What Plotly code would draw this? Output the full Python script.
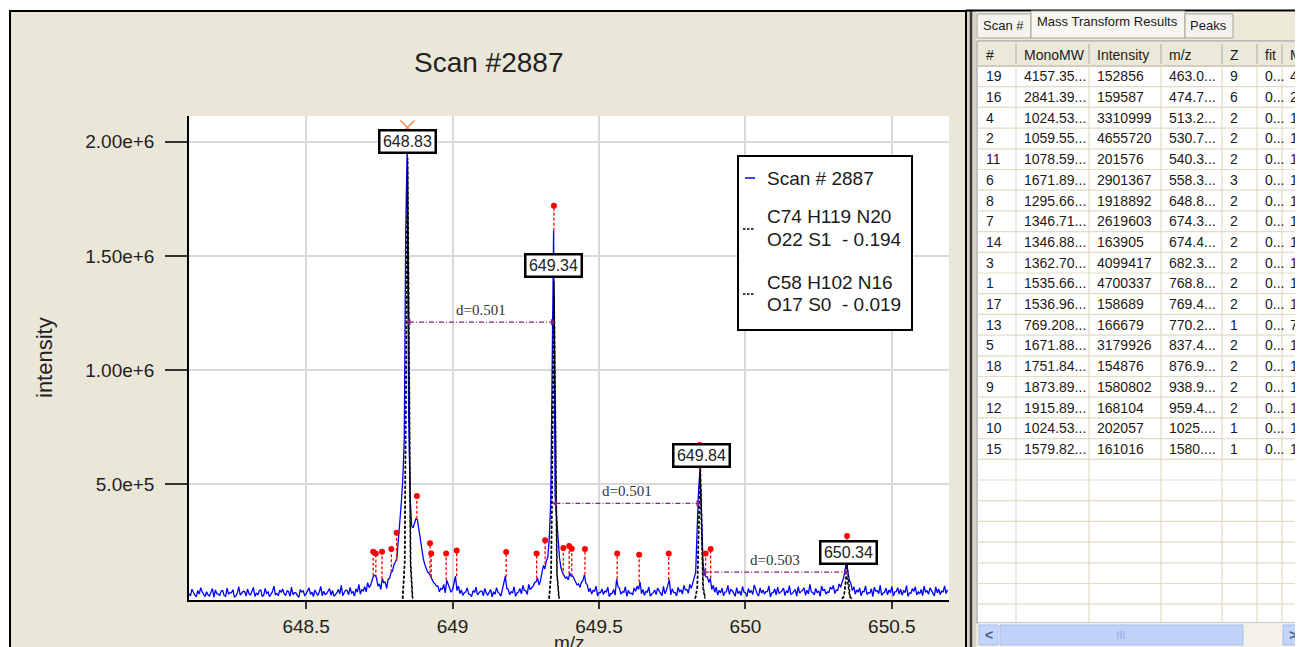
import plotly.graph_objects as go

# page places the figure 8px from the top-left corner
OFF = 8
W, H = 1303 - OFF, 647 - OFF

# ---------------- chart data ----------------
chart_title = "Scan #2887"
x_title = "m/z"
y_title = "intensity"
x_tick_vals = [648.5, 649.0, 649.5, 650.0, 650.5]
x_tick_text = ["648.5", "649", "649.5", "650", "650.5"]
y_tick_vals = [5.0e5, 1.0e6, 1.5e6, 2.0e6]
y_tick_text = ["5.0e+5", "1.00e+6", "1.50e+6", "2.00e+6"]
x_range = [648.10, 650.695]
y_range = [-6000, 2112500]

# measured spectrum: intensity (thousands) every 0.01 m/z from 648.10
grid_start = 648.10
grid_step = 0.01
grid_int_k = [
    22, 41, 15, 36, 48, 19, 30, 12, 44, 38, 20, 33, 14, 46, 27, 39, 11, 52, 24, 31,
    43, 16, 49, 25, 35, 10, 45, 29, 18, 55, 23, 37, 42, 15, 31, 50, 26, 13, 40, 34,
    21, 47, 28, 38, 14, 53, 32, 22, 44, 36, 19, 41, 58, 27, 35, 49, 30, 43, 62, 39,
    52, 70, 58, 100, 92, 65, 88, 72, 84, 115, 150, 180, 330,
    520, 1600, 800, 320, 330, 345, 250, 175, 130, 110, 85, 65, 55, 45, 62, 80, 50, 40, 98, 55,
    38, 26, 47, 18, 35, 50, 24, 33, 45, 16, 40, 30, 48, 22, 37,
    98, 40, 30, 52, 25, 44, 58, 35, 62,
    48, 70, 90, 78, 145, 165, 260, 1200, 450, 270, 135, 105, 95, 112, 100, 78, 64, 72, 104, 60,
    45, 36, 55, 27, 42, 33, 50, 21, 40,
    85,
    44, 30, 52, 36, 24, 47,
    55, 72,
    40, 32, 51, 20, 38, 46, 28, 54, 35,
    82,
    43, 26, 49, 37, 58, 40, 62,
    68, 115, 480, 330, 105, 95, 88, 58,
    50, 36, 46, 29, 58, 40, 24, 48, 33, 54, 27, 44, 36, 60, 20, 47, 38, 31, 56, 25,
    42, 50, 28, 46, 35, 57, 22, 40, 52, 30, 47, 37, 62, 26, 45, 34, 55, 41, 29, 51,
    58, 38, 64,
    72, 125, 115, 65,
    52, 38, 47, 32, 56, 26, 43, 50, 35, 58, 24, 46, 38, 53, 30, 48, 41, 34, 57, 25,
    44, 52, 29, 40, 55, 36, 47, 28, 51, 42, 33, 56, 39,
]
# in-between samples every 0.01 m/z from 648.105
mid_start = 648.105
mid_int_k = [
    12, 25, 8, 20, 30, 9, 17, 28, 6, 22, 14, 35, 10, 19, 26, 7, 24, 15, 32, 11,
    21, 29, 9, 16, 38, 13, 23, 8, 31, 18, 12, 27, 20, 34, 10, 17, 25, 6, 29, 14,
    36, 19, 9, 24, 30, 12, 18, 33, 15, 10, 26, 21, 13, 37, 17, 24, 11, 28, 20, 34,
    30, 48, 80, 102, 55, 40, 70, 45, 90, 120,
    160, 260, 420, 700, 1980, 450, 310, 350, 300, 210, 150, 115, 95, 70, 55,
    30, 42, 25, 60, 28, 75, 35, 22,
    14, 30, 20, 9, 27, 16, 33, 12, 24, 31, 8, 19, 28, 11, 60,
    45, 17, 26, 10, 29, 21, 36, 18, 40,
    55, 74, 60, 110, 130, 180, 420, 1610, 330, 180, 115,
    90, 82, 98, 86, 60, 50, 80, 68, 30,
    20, 33, 12, 26, 18, 30, 9, 24, 15, 52, 19, 28, 10, 23, 17, 32, 40, 22, 14, 29,
    11, 25, 18, 34, 13, 21, 60, 16, 27, 12, 31, 20, 38, 24, 45,
    85, 300, 565, 160, 95,
    70, 40, 28, 16, 25, 12, 30, 19, 35, 10, 22, 14, 28, 9, 26, 18, 33, 12, 24, 20,
    31, 8, 27, 16, 22, 35, 13, 25, 19, 29, 11, 24, 37, 15, 21, 30, 17, 26, 10, 34,
    20, 28, 41, 23, 36, 50,
    90, 160, 80,
    35, 20, 28, 12, 30, 18, 25, 9, 33, 22, 14, 29, 17, 26, 11, 31, 20, 15, 27, 10,
    24, 32, 16, 21, 13, 28, 19, 34, 12, 25, 18, 30, 22,
]
assert len(grid_int_k) == 260
assert len(mid_int_k) == 259

# theoretical isotope patterns (black dashed), one list per isotope peak
theo_names = ["C74 H119 N20 O22 S1  - 0.194", "C58 H102 N16 O17 S0  - 0.019"]
theo1_peaks_mz = [
    [648.829, 648.836, 648.841, 648.846, 648.851, 648.856, 648.863],
    [649.329, 649.336, 649.341, 649.346, 649.351, 649.356, 649.363],
    [649.828, 649.835, 649.840, 649.845, 649.850, 649.855, 649.862],
    [650.329, 650.336, 650.341, 650.346, 650.351, 650.356, 650.363],
]
theo1_peaks_k = [
    [0, 150, 1030, 1880, 1030, 150, 0],
    [0, 110, 760, 1390, 760, 110, 0],
    [0, 45, 300, 550, 300, 45, 0],
    [0, 8, 55, 100, 55, 8, 0],
]
theo2_peaks_mz = [
    [648.830, 648.837, 648.842, 648.847, 648.852, 648.857, 648.864],
    [649.330, 649.337, 649.342, 649.347, 649.352, 649.357, 649.364],
    [649.829, 649.836, 649.841, 649.846, 649.851, 649.856, 649.863],
    [650.330, 650.337, 650.342, 650.347, 650.352, 650.357, 650.364],
]
theo2_peaks_k = [
    [0, 160, 1060, 1930, 1060, 160, 0],
    [0, 105, 730, 1330, 730, 105, 0],
    [0, 50, 320, 590, 320, 50, 0],
    [0, 12, 80, 150, 80, 12, 0],
]

# picked peaks (red stems): m/z, stem top and stem base (thousands)
pick_mz = [648.729, 648.738, 648.759, 648.791, 648.809, 648.878, 648.923, 648.927,
           648.978, 649.014, 649.183, 649.287, 649.316, 649.378, 649.398, 649.407,
           649.452, 649.562, 649.637, 649.738, 649.864, 649.881,
           648.846, 649.346, 649.843, 650.347]
pick_top_k = [205, 198, 205, 217, 288, 449, 242, 198,
              198, 211, 204, 198, 256, 222, 230, 218,
              217, 198, 192, 198, 198, 217,
              2035, 1720, 672, 274]
pick_base_k = [100, 92, 85, 115, 165, 350, 110, 95,
               80, 98, 95, 88, 150, 100, 108, 98,
               104, 85, 72, 82, 100, 88,
               1980, 1610, 565, 160]
flag_mz = [648.846]
flag_int_k = [2062]

# peak labels
label_text = ["648.83", "649.34", "649.84", "650.34"]
label_mz = [648.846, 649.345, 649.850, 650.351]
label_int_k = [1999, 1460, 628, 204]

# spacing arrows
diff_from_mz = [648.851, 649.351, 649.859]
diff_to_mz = [649.341, 649.838, 650.343]
diff_int_k = [1210, 417, 116]
diff_text = ["d=0.501", "d=0.501", "d=0.503"]

legend_lines = ["Scan # 2887", "C74 H119 N20", "O22 S1  - 0.194", "C58 H102 N16", "O17 S0  - 0.019"]

# side table
tab_names = ["Scan #", "Mass Transform Results", "Peaks"]
tbl_header = ["#", "MonoMW", "Intensity", "m/z", "Z", "fit", "Mo"]
tbl_num = ["19", "16", "4", "2", "11", "6", "8", "7", "14", "3", "1", "17", "13", "5", "18", "9", "12", "10", "15"]
tbl_mono = ["4157.35...", "2841.39...", "1024.53...", "1059.55...", "1078.59...", "1671.89...",
            "1295.66...", "1346.71...", "1346.88...", "1362.70...", "1535.66...", "1536.96...",
            "769.208...", "1671.88...", "1751.84...", "1873.89...", "1915.89...", "1024.53...", "1579.82..."]
tbl_int = ["152856", "159587", "3310999", "4655720", "201576", "2901367", "1918892", "2619603",
           "163905", "4099417", "4700337", "158689", "166679", "3179926", "154876", "1580802",
           "168104", "202057", "161016"]
tbl_mz = ["463.0...", "474.7...", "513.2...", "530.7...", "540.3...", "558.3...", "648.8...",
          "674.3...", "674.4...", "682.3...", "768.8...", "769.4...", "770.2...", "837.4...",
          "876.9...", "938.9...", "959.4...", "1025....", "1580...."]
tbl_z = ["9", "6", "2", "2", "2", "3", "2", "2", "2", "2", "2", "2", "1", "2", "2", "2", "2", "1", "1"]
tbl_fit = ["0..."] * 19
tbl_mo = ["41", "28", "10", "10", "10", "16", "12", "13", "13", "13", "15", "15", "76", "16", "17",
          "18", "19", "10", "15"]

# ---------------- styling ----------------
FONT = "Liberation Sans, Arial, sans-serif"
SERIF = "Liberation Serif, Times New Roman, serif"
BEIGE = "#EAE7D9"
TXT = "#1A1A1A"
GRIDT = "#E2DCC6"


def X(p):
    return (p - OFF) / W


def Y(p):
    return 1 - (p - OFF) / H


PL, PR, PT, PB = 189, 949, 116, 600

fig = go.Figure()

# measured spectrum
pts = sorted([(round(grid_start + grid_step * i, 3), v) for i, v in enumerate(grid_int_k)]
             + [(round(mid_start + grid_step * i, 3), v) for i, v in enumerate(mid_int_k)])
fig.add_trace(go.Scatter(x=[p[0] for p in pts], y=[p[1] * 1000 for p in pts], mode="lines",
                         line=dict(color="#0000FF", width=1.3), name=legend_lines[0],
                         showlegend=False, hoverinfo="skip"))

# theoretical patterns
for name, pm, pk in [(theo_names[0], theo1_peaks_mz, theo1_peaks_k),
                     (theo_names[1], theo2_peaks_mz, theo2_peaks_k)]:
    xs, ys = [], []
    for m_list, k_list in zip(pm, pk):
        xs += m_list + [None]
        ys += [k * 1000 for k in k_list] + [None]
    fig.add_trace(go.Scatter(x=xs, y=ys, mode="lines", name=name, showlegend=False,
                             line=dict(color="#000000", width=1.4, dash="3px,2px"), hoverinfo="skip"))

# red picked-peak stems
sx, sy = [], []
for m, t, b in zip(pick_mz, pick_top_k, pick_base_k):
    sx += [m, m, None]
    sy += [b * 1000, t * 1000, None]
fig.add_trace(go.Scatter(x=sx, y=sy, mode="lines", showlegend=False, hoverinfo="skip",
                         line=dict(color="#FF0000", width=1.3, dash="3px,2px")))
fig.add_trace(go.Scatter(x=pick_mz, y=[t * 1000 for t in pick_top_k], mode="markers",
                         showlegend=False, hoverinfo="skip",
                         marker=dict(color="#FF0000", size=6)))
fig.add_trace(go.Scatter(x=flag_mz, y=[v * 1000 for v in flag_int_k], mode="markers",
                         showlegend=False, hoverinfo="skip",
                         marker=dict(symbol="x-thin-open", size=14, color="#F08A4B",
                                     line=dict(color="#F08A4B", width=1.5))))

# spacing arrows
for a, b, v in zip(diff_from_mz, diff_to_mz, diff_int_k):
    fig.add_trace(go.Scatter(x=[a, b], y=[v * 1000, v * 1000], mode="lines+markers",
                             showlegend=False, hoverinfo="skip",
                             line=dict(color="#80207F", width=1.3, dash="5px,2px,1px,2px"),
                             marker=dict(symbol=["triangle-left", "triangle-right"], size=6,
                                         color="#80207F")))

annotations = []


def text_at(px, py, t, size, color=TXT, family=FONT, xanchor="center", **kw):
    annotations.append(dict(x=X(px), y=Y(py), xref="paper", yref="paper", text=t,
                            showarrow=False, xanchor=xanchor, yanchor="middle",
                            font=dict(family=family, size=size, color=color), **kw))


for a, b, v, t in zip(diff_from_mz, diff_to_mz, diff_int_k, diff_text):
    annotations.append(dict(x=(a + b) / 2, y=v * 1000, xref="x", yref="y", text=t,
                            showarrow=False, yshift=12, xanchor="center", yanchor="middle",
                            font=dict(family=SERIF, size=15, color="#333333")))
for t, m, v in zip(label_text, label_mz, label_int_k):
    annotations.append(dict(x=m, y=v * 1000, xref="x", yref="y", text=t, showarrow=False,
                            xanchor="center", yanchor="middle",
                            bgcolor="#FFFFFF", bordercolor="#000000", borderwidth=2.5,
                            borderpad=1, width=52, height=18,
                            font=dict(family=FONT, size=16, color="#222222")))

# titles
text_at(488, 62, chart_title, 28, "#222222")
text_at(44, 358, y_title, 22, "#222222", textangle=-90)
text_at(569, 642, x_title, 19, "#222222")

shapes = []


def rect(x0, y0, x1, y1, fill, line_color=None, lw=0, layer="below"):
    shapes.append(dict(type="rect", xref="paper", yref="paper", x0=X(x0), x1=X(x1),
                       y0=Y(y1), y1=Y(y0), fillcolor=fill, layer=layer,
                       line=dict(color=line_color or fill, width=lw)))


def hline(x0, x1, y, color, lw=1, layer="below", dash="solid"):
    shapes.append(dict(type="line", xref="paper", yref="paper", x0=X(x0), x1=X(x1),
                       y0=Y(y), y1=Y(y), layer=layer, line=dict(color=color, width=lw, dash=dash)))


def vline(x, y0, y1, color, lw=1, layer="below"):
    shapes.append(dict(type="line", xref="paper", yref="paper", x0=X(x), x1=X(x),
                       y0=Y(y0), y1=Y(y1), layer=layer, line=dict(color=color, width=lw)))


# left panel
rect(10, 11, 966, 662, BEIGE, "#000000", 2)
rect(PL, PT, PR, PB, "#FFFFFF")
# splitter
rect(967, 11, 976, 662, "#D9D5C7")
vline(971, 11, 662, "#3A3A3A", 2.5)
hline(966, 1310, 10.5, "#000000", 2)

# right panel: tab strip
rect(976, 12, 1310, 662, "#ECE9D8")
tab_boxes = [(977, 14, 1031, 38), (1031, 11, 1185, 38), (1185, 14, 1233, 38)]
tab_fills = ["#F4F3EE", "#F7F6F0", "#F4F3EE"]
for (a, b, c, d), f in zip(tab_boxes, tab_fills):
    rect(a, b, c, d, f, "#A6A394", 1)
tab_text_x = [1003, 1107, 1208]
tab_text_y = [25, 22, 25]
for t, tx, ty in zip(tab_names, tab_text_x, tab_text_y):
    text_at(tx, ty, t, 13)

# table area
rect(977, 41, 1310, 623, "#FFFFFF", "#8E8E8E", 1)
rect(978, 42, 1310, 66, "#EBE9DA")
hline(978, 1310, 66, "#D2CDBA", 2)
col_left = [978, 1016, 1089, 1161, 1222, 1257, 1282]
for cx in col_left[1:]:
    vline(cx, 44, 64, "#C3BFAC", 1.5)
    vline(cx, 66, 622, GRIDT, 1.2)
row_top = 66
row_h = 20.7
k = 1
while row_top + k * row_h < 622:
    hline(978, 1310, row_top + k * row_h, GRIDT, 1.2)
    k += 1

for j, h in enumerate(tbl_header):
    text_at(col_left[j] + 6, 55, h, 14, xanchor="left")
columns = [tbl_num, tbl_mono, tbl_int, tbl_mz, tbl_z, tbl_fit, tbl_mo]
for j, col in enumerate(columns):
    for i, val in enumerate(col):
        text_at(col_left[j] + 6, row_top + row_h * (i + 0.5), val, 14, xanchor="left")

# scrollbar
rect(978, 623, 1310, 650, "#F3F1EA")
rect(979, 625, 998, 645, "#C4D5FB", "#A9BFEF", 1)
rect(1000, 625, 1243, 645, "#C0D2FA", "#A5BCEF", 1)
rect(1283, 625, 1302, 645, "#C4D5FB", "#A9BFEF", 1)
for gx in [1118, 1121, 1124]:
    vline(gx, 631, 639, "#8EA6DE", 1)
text_at(988.5, 635, "<b>&lt;</b>", 14, "#4B5E8C")
text_at(1292.5, 635, "<b>&gt;</b>", 14, "#4B5E8C")

# legend (drawn manually)
rect(738, 156, 912, 330, "#FFFFFF", "#000000", 2, layer="above")
hline(745, 755, 178, "#0000FF", 1.5, layer="above")
hline(743, 754, 229, "#000000", 1.6, layer="above", dash="2.5px,1.5px")
hline(743, 754, 294, "#000000", 1.6, layer="above", dash="2.5px,1.5px")
legend_y = [178, 216, 239, 282, 304]
for t, ly in zip(legend_lines, legend_y):
    text_at(765, ly, t, 19, "#1A1A1A", xanchor="left")

fig.update_layout(
    width=W, height=H,
    margin=dict(l=0, r=0, t=0, b=0),
    paper_bgcolor="#FFFFFF",
    plot_bgcolor="#FFFFFF",
    showlegend=False,
    shapes=shapes,
    annotations=annotations,
    font=dict(family=FONT, color="#222222"),
    xaxis=dict(domain=[X(PL), X(PR)], range=x_range, tickvals=x_tick_vals, ticktext=x_tick_text,
               showgrid=True, gridcolor="#D9D9D9", gridwidth=1.5, zeroline=False,
               showline=True, linecolor="#000000", linewidth=1.5,
               ticks="outside", ticklen=7, tickwidth=1.5, tickcolor="#333333",
               tickfont=dict(family=FONT, size=19, color="#222222"),
               ticklabelstandoff=1, automargin=False, fixedrange=True),
    yaxis=dict(domain=[Y(PB), Y(PT)], range=y_range, tickvals=y_tick_vals, ticktext=y_tick_text,
               showgrid=True, gridcolor="#D9D9D9", gridwidth=1.5, zeroline=False,
               showline=True, linecolor="#000000", linewidth=1.5,
               ticks="outside", ticklen=22, tickwidth=1.5, tickcolor="#333333",
               tickfont=dict(family=FONT, size=19, color="#222222"),
               ticklabelstandoff=7, automargin=False, fixedrange=True),
)

fig.write_html("out.html")
